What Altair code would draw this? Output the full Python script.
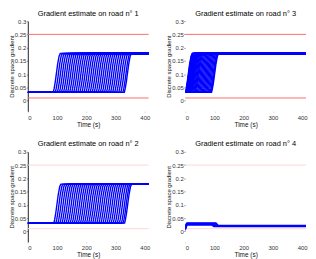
import altair as alt
import pandas as pd

# ---- data ----
T_END = 413
LOW = 0.031
HIGH = 0.178
rise_dt = [0, 3, 7, 11, 15, 20, 24]
rise_g = [0.031, 0.045, 0.072, 0.105, 0.138, 0.168, 0.178]

road1_start = [87, 94, 101, 108, 115, 122, 129, 136, 143, 150, 157, 164, 171,
               178, 185, 192, 199, 206, 213, 220, 227, 234, 241, 248, 255, 262,
               269, 276, 283, 290, 297, 304, 311, 318, 325, 330]
road2_start = [89, 96, 103, 110, 117, 124, 131, 138, 145, 152, 159, 166, 173,
               180, 187, 194, 201, 208, 215, 222, 229, 236, 243, 250, 257, 264,
               271, 278, 285, 292, 299, 306, 313, 320, 326, 331]
road3_start = [0, 1, 2, 3, 4, 5, 6, 7, 8, 9, 10, 11, 12, 14, 16, 18, 20, 22,
               25, 28, 31, 34, 37, 41, 45, 49, 53, 57, 61, 65, 69, 73, 77, 81,
               85, 88, 90]

road4_first = [0.004, 0.008, 0.012, 0.016, 0.020, 0.024]
road4_mid = [0.024, 0.026, 0.028, 0.029, 0.030, 0.032]
road4_drop = [90, 93, 96, 99, 102, 105]
road4_last = [0.018, 0.019, 0.020, 0.020, 0.021, 0.022]

limits = [0.01, 0.25]
titles = ["Gradient estimate on road n° 1", "Gradient estimate on road n° 3",
          "Gradient estimate on road n° 2", "Gradient estimate on road n° 4"]
limit_colors = ["#ff6b6b", "#ff6b6b", "#ffd6d6", "#ffd6d6"]
y_ticks = [0, 0.05, 0.1, 0.15, 0.2, 0.25, 0.3]
x_ticks = [0, 100, 200, 300, 400]


def step_lines(starts):
    rows = []
    for i, t0 in enumerate(starts):
        rows.append({"line": i, "t": 0, "g": LOW})
        for dt, g in zip(rise_dt, rise_g):
            rows.append({"line": i, "t": t0 + dt, "g": g})
        rows.append({"line": i, "t": T_END, "g": HIGH})
    return pd.DataFrame(rows)


def road4_lines():
    rows = []
    for i, (a, m, d, e) in enumerate(zip(road4_first, road4_mid, road4_drop, road4_last)):
        rows += [{"line": i, "t": 0, "g": a}, {"line": i, "t": 6, "g": m},
                 {"line": i, "t": d, "g": m}, {"line": i, "t": d + 8, "g": e},
                 {"line": i, "t": T_END, "g": e}]
    return pd.DataFrame(rows)


data = [step_lines(road1_start), step_lines(road3_start),
        step_lines(road2_start), road4_lines()]

FONT = "Liberation Sans"


def panel(k, left):
    xs = alt.Scale(domain=[0, T_END], nice=False, zero=False)
    ys = alt.Scale(domain=[-0.04, 0.3], nice=False, zero=False)
    xax = alt.Axis(values=x_ticks, title="Time (s)", domain=False, grid=False,
                   tickSize=1, tickColor="#cccccc", labelPadding=2,
                   labelFontSize=6, titleFontSize=6.5, titlePadding=1,
                   labelFont=FONT, titleFont=FONT, labelColor="#333",
                   titleColor="#111", titleFontWeight="normal")
    yax = alt.Axis(values=y_ticks, format=".2~f", title="Discrete space gradient",
                   domain=left, domainColor="#222", domainWidth=1, grid=False,
                   tickSize=1.5, tickColor="#999", labelPadding=0.5,
                   labelFontSize=6, titleFontSize=6, titlePadding=0,
                   labelFont=FONT, titleFont=FONT, labelColor="#333",
                   titleColor="#111", titleFontWeight="normal")
    red = alt.Chart(pd.DataFrame({"g": limits})).mark_rule(
        color=limit_colors[k], strokeWidth=1).encode(
        y=alt.Y("g:Q", scale=ys, axis=yax))
    blue = alt.Chart(data[k]).mark_line(color="#0000ff", strokeWidth=1.4,
                                         clip=True).encode(
        x=alt.X("t:Q", scale=xs, axis=xax),
        y=alt.Y("g:Q", scale=ys, axis=yax),
        detail="line:N")
    return alt.layer(red, blue).properties(
        width=122, height=91,
        title=alt.TitleParams(titles[k], fontSize=7.5, font=FONT,
                              fontWeight="normal", color="#000", offset=1))


top = alt.hconcat(panel(0, True), panel(1, False), spacing=15)
bottom = alt.hconcat(panel(2, True), panel(3, False), spacing=15)
chart = alt.vconcat(top, bottom, spacing=12).properties(
    padding=0, background="white"
).configure_view(stroke=None)

chart.save("out.html", embed_options={"renderer": "svg", "actions": False})
